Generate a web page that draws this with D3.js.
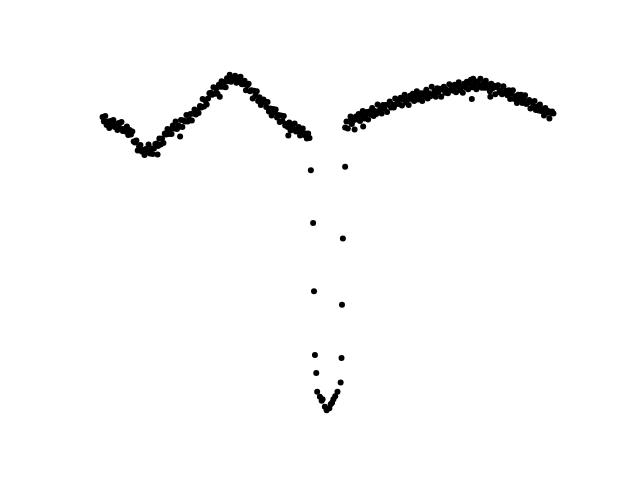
<!DOCTYPE html>
<html>
<head>
<meta charset="utf-8">
<script src="https://cdn.jsdelivr.net/npm/d3@7"></script>
<style>
html,body{margin:0;padding:0;background:#fff;}
svg{display:block;}
</style>
</head>
<body>
<svg id="chart" width="640" height="480"></svg>
<script>
// Phase-folded light curve: [phase, relative flux]
const leftBranch = [
[0.000,0.927],[0.003,0.918],[0.006,0.929],[0.009,0.911],[0.012,0.918],[0.015,0.905],
[0.018,0.919],[0.021,0.913],[0.024,0.921],[0.027,0.907],[0.030,0.913],[0.033,0.901],[0.036,0.915],
[0.039,0.905],[0.042,0.917],[0.045,0.899],[0.048,0.903],[0.051,0.898],[0.054,0.908],[0.057,0.891],
[0.060,0.901],[0.063,0.892],[0.066,0.898],[0.069,0.878],
[0.072,0.876],[0.075,0.880],[0.078,0.860],[0.081,0.868],
[0.084,0.871],[0.087,0.858],[0.090,0.861],[0.093,0.851],
[0.096,0.863],[0.099,0.857],[0.102,0.872],
[0.105,0.854],[0.108,0.864],[0.111,0.853],[0.114,0.864],
[0.117,0.873],[0.120,0.874],[0.122,0.852],[0.123,0.869],[0.126,0.884],
[0.129,0.872],[0.132,0.884],[0.135,0.875],[0.138,0.894],
[0.141,0.892],[0.144,0.903],[0.147,0.893],
[0.150,0.902],[0.153,0.893],[0.156,0.910],[0.159,0.904],
[0.162,0.918],[0.165,0.903],[0.168,0.910],[0.171,0.908],[0.172,0.888],
[0.174,0.921],[0.177,0.907],[0.180,0.920],
[0.183,0.918],[0.186,0.931],[0.189,0.918],[0.192,0.922],
[0.195,0.933],[0.198,0.920],[0.201,0.934],[0.204,0.942],
[0.207,0.932],[0.210,0.940],[0.213,0.935],
[0.216,0.949],[0.219,0.946],[0.222,0.963],[0.225,0.948],
[0.228,0.960],[0.231,0.952],[0.234,0.964],[0.237,0.974],
[0.240,0.975],[0.243,0.971],[0.246,0.986],
[0.249,0.973],[0.252,0.983],[0.255,0.973],[0.258,0.991],[0.260,0.967],
[0.261,0.987],[0.264,0.998],[0.267,0.987],[0.270,0.996],
[0.273,0.986],[0.276,1.004],[0.279,0.998],
[0.282,1.011],[0.285,0.997],[0.288,1.003],[0.291,1.000],
[0.294,1.009],[0.297,0.995],[0.300,1.005],[0.303,0.999],
[0.306,1.007],[0.309,0.992],[0.312,0.992],[0.315,0.999],
[0.318,0.980],[0.321,0.990],[0.324,0.993],
[0.327,0.978],[0.330,0.980],[0.333,0.964],[0.336,0.979],
[0.339,0.969],[0.342,0.978],[0.345,0.959],[0.348,0.966],
[0.351,0.951],[0.354,0.957],[0.357,0.962],
[0.360,0.957],[0.363,0.947],[0.366,0.957],[0.369,0.938],
[0.372,0.944],[0.375,0.930],[0.378,0.943],[0.381,0.936],
[0.384,0.942],[0.387,0.926],[0.390,0.931],[0.393,0.917],
[0.396,0.930],[0.399,0.919],[0.402,0.929],
[0.405,0.910],[0.408,0.913],[0.411,0.907],[0.412,0.890],[0.414,0.916],
[0.417,0.900],[0.420,0.909],[0.423,0.904],[0.426,0.914],
[0.429,0.898],[0.432,0.899],[0.435,0.907],
[0.438,0.890],[0.441,0.900],[0.444,0.904],[0.447,0.891],
[0.450,0.894],[0.453,0.884],[0.456,0.894],[0.459,0.885]
];

const eclipse = [
[0.462,0.821],[0.538,0.828],[0.467,0.716],[0.533,0.685],[0.469,0.580],[0.531,0.553],
[0.471,0.453],[0.530,0.447],[0.474,0.417],[0.528,0.398],[0.476,0.380],[0.521,0.380],
[0.482,0.370],[0.516,0.371],[0.486,0.362],[0.488,0.365],[0.512,0.365],[0.509,0.358],
[0.506,0.355],[0.503,0.347],[0.497,0.343],[0.493,0.350]
];

const rightBranch = [
[0.538,0.906],[0.541,0.918],[0.544,0.904],[0.547,0.918],
[0.550,0.928],[0.553,0.913],[0.556,0.920],[0.559,0.902],[0.562,0.928],[0.565,0.922],[0.568,0.933],
[0.571,0.919],[0.574,0.930],[0.577,0.939],[0.578,0.908],[0.580,0.924],[0.583,0.929],[0.586,0.937],[0.589,0.922],[0.592,0.938],
[0.595,0.932],[0.598,0.945],[0.601,0.929],[0.604,0.939],[0.607,0.933],[0.610,0.952],[0.613,0.937],
[0.616,0.944],[0.619,0.934],[0.622,0.951],[0.625,0.944],[0.628,0.951],[0.631,0.937],[0.634,0.952],[0.637,0.958],
[0.640,0.946],[0.643,0.952],[0.646,0.946],[0.649,0.964],[0.652,0.953],[0.655,0.960],[0.658,0.953],
[0.661,0.965],[0.664,0.950],[0.667,0.962],[0.670,0.971],[0.673,0.956],[0.676,0.962],[0.679,0.951],[0.682,0.969],
[0.685,0.963],[0.688,0.973],[0.691,0.959],[0.694,0.969],[0.697,0.978],[0.700,0.962],[0.703,0.967],
[0.706,0.974],[0.709,0.959],[0.712,0.974],[0.715,0.968],[0.718,0.981],[0.721,0.964],[0.724,0.974],
[0.727,0.968],[0.730,0.987],[0.733,0.971],[0.736,0.978],[0.739,0.967],[0.742,0.984],[0.745,0.976],[0.748,0.983],
[0.751,0.967],[0.754,0.982],[0.757,0.987],[0.760,0.975],[0.763,0.981],[0.766,0.974],[0.769,0.992],
[0.772,0.980],[0.775,0.987],[0.778,0.979],[0.781,0.991],[0.784,0.976],[0.787,0.987],[0.790,0.996],[0.793,0.980],
[0.796,0.987],[0.799,0.975],[0.802,0.993],[0.805,0.986],[0.808,0.997],[0.811,0.982],[0.814,0.993],
[0.817,1.001],[0.819,0.963],[0.820,0.986],[0.822,1.003],[0.823,0.990],[0.826,0.998],[0.829,0.982],[0.832,0.997],[0.835,0.990],
[0.838,1.003],[0.841,0.985],[0.844,0.993],[0.847,0.985],[0.850,0.999],[0.853,0.985],[0.856,0.990],[0.859,0.978],[0.860,0.967],
[0.862,0.993],[0.865,0.984],[0.868,0.989],[0.871,0.972],[0.874,0.986],[0.877,0.990],[0.880,0.976],
[0.883,0.980],[0.886,0.972],[0.889,0.988],[0.892,0.975],[0.895,0.979],[0.898,0.970],[0.901,0.980],[0.904,0.963],
[0.907,0.973],[0.910,0.980],[0.913,0.963],[0.916,0.968],[0.919,0.955],[0.922,0.971],[0.925,0.963],
[0.928,0.971],[0.931,0.955],[0.934,0.964],[0.937,0.970],[0.940,0.953],[0.943,0.956],[0.946,0.961],
[0.949,0.944],[0.952,0.957],[0.955,0.948],[0.958,0.959],[0.961,0.941],[0.964,0.948],[0.967,0.940],[0.970,0.952],
[0.973,0.939],[0.976,0.943],[0.979,0.930],[0.982,0.945],[0.985,0.935],[0.988,0.939],[0.991,0.924],[0.994,0.935],[0.997,0.938],[1.000,0.934]
];

const points = leftBranch.concat(eclipse, rightBranch);

const W = 640, H = 480;
const plot = {left: 80, right: 576, top: 58, bottom: 427};

function padded(ext) {
  const pad = (ext[1] - ext[0]) * 0.05;
  return [ext[0] - pad, ext[1] + pad];
}

const x = d3.scaleLinear()
  .domain(padded(d3.extent(points, d => d[0])))
  .range([plot.left, plot.right]);
const y = d3.scaleLinear()
  .domain(padded(d3.extent(points, d => d[1])))
  .range([plot.bottom, plot.top]);

const svg = d3.select("#chart");
svg.append("rect").attr("width", W).attr("height", H).attr("fill", "#fff");

svg.append("g")
  .selectAll("circle")
  .data(points)
  .join("circle")
  .attr("cx", d => x(d[0]))
  .attr("cy", d => y(d[1]))
  .attr("r", 3)
  .attr("fill", "#000");
</script>
</body>
</html>
